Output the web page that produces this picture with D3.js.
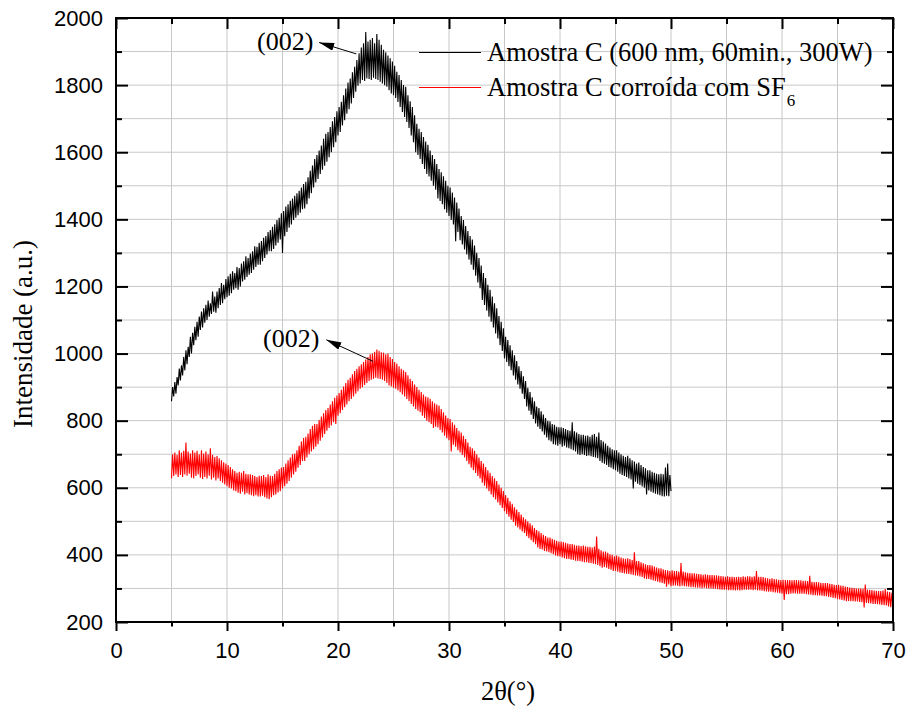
<!DOCTYPE html>
<html>
<head>
<meta charset="utf-8">
<script src="https://cdn.jsdelivr.net/npm/d3@7"></script>
<style>
  body { margin: 0; background: #fff; }
</style>
</head>
<body>
<div id="root"></div>
<script>
// DATA (2θ from 5°, step 0.1°)
const xStart = 5, xStep = 0.1;

// Amostra C (600 nm, 60min., 300W), 5° .. 50°  (one row = one degree)
const blackIntensity = [
  858, 900, 872, 915, 880, 930, 905, 955, 920, 965,
  935, 990, 950, 1010, 968, 1020, 990, 1050, 1000, 1062,
  1025, 1080, 1040, 1095, 1050, 1110, 1070, 1125, 1078, 1135,
  1092, 1145, 1100, 1158, 1110, 1150, 1118, 1185, 1125, 1170,
  1122, 1185, 1135, 1195, 1145, 1210, 1150, 1205, 1162, 1222,
  1168, 1230, 1172, 1238, 1180, 1245, 1190, 1240, 1195, 1258,
  1190, 1255, 1200, 1268, 1215, 1275, 1220, 1290, 1228, 1285,
  1235, 1298, 1240, 1305, 1250, 1320, 1258, 1318, 1265, 1330,
  1265, 1335, 1275, 1345, 1285, 1350, 1295, 1362, 1305, 1368,
  1305, 1378, 1312, 1385, 1322, 1398, 1330, 1405, 1340, 1418,
  1300, 1425, 1350, 1438, 1362, 1445, 1375, 1455, 1385, 1462,
  1398, 1470, 1405, 1478, 1412, 1485, 1420, 1495, 1430, 1505,
  1432, 1512, 1445, 1525, 1462, 1545, 1478, 1560, 1495, 1580,
  1510, 1592, 1520, 1605, 1535, 1620, 1548, 1640, 1560, 1655,
  1572, 1660, 1585, 1675, 1600, 1692, 1615, 1705, 1630, 1722,
  1650, 1735, 1660, 1750, 1680, 1770, 1695, 1790, 1715, 1808,
  1728, 1820, 1745, 1838, 1762, 1855, 1780, 1875, 1798, 1895,
  1805, 1912, 1815, 1925, 1812, 1958, 1820, 1930, 1818, 1935,
  1815, 1940, 1822, 1925, 1818, 1952, 1815, 1935, 1810, 1920,
  1805, 1905, 1800, 1898, 1795, 1888, 1785, 1880, 1775, 1870,
  1770, 1858, 1762, 1840, 1750, 1830, 1735, 1815, 1720, 1800,
  1705, 1795, 1690, 1770, 1672, 1752, 1650, 1735, 1630, 1710,
  1600, 1685, 1592, 1670, 1580, 1660, 1565, 1645, 1550, 1632,
  1535, 1622, 1528, 1605, 1515, 1592, 1500, 1580, 1488, 1565,
  1462, 1550, 1455, 1540, 1445, 1528, 1430, 1515, 1420, 1500,
  1410, 1495, 1398, 1480, 1385, 1465, 1335, 1450, 1362, 1432,
  1338, 1410, 1325, 1398, 1310, 1380, 1295, 1365, 1280, 1350,
  1265, 1340, 1250, 1322, 1232, 1300, 1212, 1285, 1195, 1262,
  1160, 1240, 1145, 1225, 1128, 1205, 1110, 1190, 1095, 1170,
  1078, 1150, 1060, 1135, 1045, 1112, 1025, 1095, 1008, 1075,
  985, 1050, 975, 1040, 962, 1025, 950, 1010, 935, 995,
  922, 978, 908, 962, 895, 948, 880, 932, 865, 918,
  842, 898, 830, 885, 818, 870, 805, 858, 792, 842,
  782, 838, 775, 828, 768, 818, 758, 808, 750, 800,
  742, 798, 738, 790, 730, 788, 728, 782, 725, 780,
  730, 780, 722, 778, 725, 775, 720, 772, 718, 770,
  715, 795, 712, 768, 708, 765, 700, 760, 698, 758,
  700, 758, 698, 755, 695, 756, 696, 752, 694, 758,
  692, 760, 690, 752, 688, 765, 680, 742, 675, 738,
  672, 732, 668, 725, 662, 720, 660, 715, 655, 712,
  652, 712, 648, 705, 642, 700, 638, 695, 635, 692,
  632, 695, 628, 688, 625, 682, 598, 678, 618, 672,
  612, 675, 608, 668, 604, 662, 600, 658, 580, 652,
  592, 652, 588, 648, 585, 645, 582, 642, 580, 640,
  578, 642, 575, 640, 574, 660, 576, 672, 575, 638,
  590
];

// Amostra C corroída com SF6, 5° .. 70°  (one row = one degree)
const redIntensity = [
  628, 700, 635, 705, 640, 698, 632, 712, 638, 705,
  632, 710, 640, 735, 636, 708, 642, 702, 630, 712,
  628, 705, 635, 710, 640, 700, 630, 712, 626, 702,
  632, 708, 628, 700, 636, 718, 625, 698, 630, 692,
  622, 695, 628, 688, 620, 682, 615, 676, 610, 672,
  605, 668, 600, 662, 598, 655, 592, 650, 590, 645,
  585, 648, 582, 645, 588, 650, 580, 642, 584, 640,
  580, 640, 578, 638, 575, 635, 578, 632, 574, 636,
  574, 635, 576, 638, 572, 632, 568, 640, 566, 636,
  572, 635, 578, 642, 580, 650, 586, 655, 590, 660,
  598, 662, 605, 672, 612, 682, 620, 690, 630, 700,
  640, 702, 648, 712, 660, 725, 668, 738, 680, 748,
  680, 752, 690, 762, 700, 775, 708, 785, 715, 790,
  722, 790, 730, 802, 740, 812, 750, 822, 760, 832,
  770, 838, 778, 848, 786, 858, 795, 868, 790, 875,
  815, 882, 822, 892, 832, 902, 840, 912, 848, 922,
  858, 928, 865, 938, 872, 948, 880, 955, 888, 962,
  895, 968, 900, 975, 906, 982, 912, 990, 918, 998,
  922, 1000, 925, 1005, 928, 1012, 926, 1008, 924, 1004,
  922, 1002, 918, 998, 912, 1000, 905, 990, 902, 984,
  898, 975, 895, 970, 890, 962, 885, 955, 878, 950,
  872, 945, 865, 935, 858, 925, 850, 918, 842, 908,
  835, 900, 830, 892, 825, 885, 815, 878, 808, 872,
  800, 870, 795, 865, 790, 858, 778, 852, 782, 848,
  780, 845, 772, 835, 765, 825, 755, 815, 748, 808,
  742, 805, 708, 795, 728, 788, 722, 778, 712, 770,
  705, 765, 698, 755, 690, 745, 680, 735, 670, 722,
  660, 718, 652, 710, 644, 700, 635, 690, 628, 680,
  615, 672, 606, 662, 598, 652, 590, 645, 580, 635,
  572, 628, 565, 620, 556, 610, 548, 600, 540, 590,
  530, 578, 522, 570, 514, 560, 505, 552, 498, 542,
  487, 535, 482, 528, 476, 520, 470, 512, 465, 506,
  456, 500, 450, 494, 444, 488, 438, 480, 432, 474,
  422, 470, 418, 465, 416, 460, 412, 456, 410, 452,
  408, 452, 405, 448, 402, 445, 398, 442, 396, 440,
  395, 440, 392, 438, 390, 436, 388, 434, 388, 432,
  386, 432, 385, 430, 383, 428, 382, 428, 381, 426,
  380, 428, 378, 426, 378, 424, 376, 424, 375, 422,
  374, 425, 372, 455, 370, 418, 366, 414, 362, 410,
  364, 410, 362, 406, 358, 402, 356, 400, 352, 396,
  352, 398, 350, 395, 348, 392, 346, 390, 345, 388,
  344, 390, 343, 388, 342, 385, 340, 408, 339, 382,
  338, 382, 336, 378, 334, 375, 330, 372, 328, 370,
  328, 370, 326, 368, 324, 365, 322, 362, 320, 360,
  318, 360, 316, 357, 314, 355, 305, 354, 312, 352,
  307, 354, 308, 352, 309, 352, 308, 350, 306, 376,
  308, 350, 307, 348, 306, 347, 305, 346, 304, 345,
  304, 345, 303, 344, 302, 343, 302, 342, 301, 341,
  302, 342, 301, 341, 300, 340, 300, 340, 299, 339,
  299, 339, 298, 338, 297, 337, 296, 336, 296, 335,
  296, 336, 295, 335, 295, 335, 295, 334, 294, 334,
  295, 335, 294, 334, 295, 336, 296, 335, 296, 336,
  296, 336, 296, 335, 295, 336, 296, 352, 294, 335,
  294, 335, 293, 334, 292, 332, 291, 330, 290, 329,
  290, 330, 289, 328, 288, 327, 287, 326, 286, 325,
  284, 326, 266, 325, 283, 325, 283, 325, 284, 324,
  285, 325, 285, 325, 284, 324, 284, 324, 284, 323,
  284, 323, 283, 322, 282, 338, 281, 320, 280, 319,
  280, 319, 279, 318, 279, 317, 278, 316, 277, 316,
  277, 316, 275, 314, 274, 313, 272, 311, 271, 310,
  268, 311, 267, 309, 266, 308, 264, 306, 262, 304,
  263, 303, 262, 302, 262, 301, 261, 300, 261, 300,
  260, 300, 259, 299, 243, 312, 257, 297, 256, 296,
  255, 295, 254, 294, 254, 293, 253, 292, 252, 292,
  251, 294, 250, 298, 249, 291, 246, 289, 244, 287,
  248
];

const xMajorTicks = [0, 10, 20, 30, 40, 50, 60, 70];
const xMinorTicks = [5, 15, 25, 35, 45, 55, 65];
const yMajorTicks = [200, 400, 600, 800, 1000, 1200, 1400, 1600, 1800, 2000];
const yMinorTicks = [300, 500, 700, 900, 1100, 1300, 1500, 1700, 1900];
const xGrid = [5, 10, 15, 20, 25, 30, 35, 40, 45, 50, 55, 60, 65];
const yGrid = [300, 400, 500, 600, 700, 800, 900, 1000, 1100, 1200, 1300, 1400, 1500, 1600, 1700, 1800, 1900];

const seriesNames = ["Amostra C (600 nm, 60min., 300W)", "Amostra C corroída com SF"];
const seriesColors = ["#000000", "#ff0000"];

// annotations: label position, arrow tail, arrow tip (data units)
const annotations = [
  { label: "(002)", tx: 12.7, ty: 1905, x1: 21.65, y1: 1893, x2: 18.3, y2: 1927 },
  { label: "(002)", tx: 13.25, ty: 1021, x1: 23.15, y1: 977, x2: 18.95, y2: 1041 }
];

// DIMENSIONS
let width = 908, height = 711;
let plotLeft = 116, plotTop = 18, plotW = 777, plotH = 604;

let svg = d3.select('#root')
  .append('svg')
  .attr('width', width)
  .attr('height', height)
  .style('background-color', '#fff');

let sansFont = '"Liberation Sans", Arial, sans-serif';
let serifFont = '"Liberation Serif", "Times New Roman", serif';

let xScale = d3.scaleLinear().domain([0, 70]).range([plotLeft, plotLeft + plotW]);
let yScale = d3.scaleLinear().domain([200, 2000]).range([plotTop + plotH, plotTop]);

// grid
svg.append('g').selectAll('line').data(xGrid).enter().append('line')
  .attr('x1', d => xScale(d)).attr('x2', d => xScale(d))
  .attr('y1', plotTop).attr('y2', plotTop + plotH)
  .attr('stroke', '#c8c8c8').attr('stroke-width', 1);
svg.append('g').selectAll('line').data(yGrid).enter().append('line')
  .attr('x1', plotLeft).attr('x2', plotLeft + plotW)
  .attr('y1', d => yScale(d)).attr('y2', d => yScale(d))
  .attr('stroke', '#c8c8c8').attr('stroke-width', 1);

// lines
let line = d3.line()
  .x((d, i) => xScale(xStart + i * xStep))
  .y(d => yScale(d));

svg.append('path')
  .datum(redIntensity)
  .attr('d', line)
  .attr('fill', 'none')
  .attr('stroke', seriesColors[1])
  .attr('stroke-width', 1.1);

svg.append('path')
  .datum(blackIntensity)
  .attr('d', line)
  .attr('fill', 'none')
  .attr('stroke', seriesColors[0])
  .attr('stroke-width', 1.1);

// axes
function styleAxis(g) {
  g.select('.domain').remove();
  g.selectAll('line').attr('stroke', '#000').attr('stroke-width', 2);
  g.selectAll('text').style('font-family', sansFont).style('font-size', '22px').attr('fill', '#000');
}

svg.append('g')
  .attr('transform', `translate(0, ${plotTop + plotH})`)
  .call(d3.axisBottom(xScale).tickValues(xMajorTicks).tickSize(9).tickPadding(11).tickFormat(d3.format('d')))
  .call(styleAxis);
svg.append('g')
  .attr('transform', `translate(0, ${plotTop + plotH})`)
  .call(d3.axisBottom(xScale).tickValues(xMinorTicks).tickSize(4.5).tickFormat(''))
  .call(styleAxis);
svg.append('g')
  .attr('transform', `translate(0, ${plotTop})`)
  .call(d3.axisTop(xScale).tickValues(xMajorTicks).tickSize(-11).tickFormat(''))
  .call(styleAxis);
svg.append('g')
  .attr('transform', `translate(0, ${plotTop})`)
  .call(d3.axisTop(xScale).tickValues(xMinorTicks).tickSize(-6).tickFormat(''))
  .call(styleAxis);

svg.append('g')
  .attr('transform', `translate(${plotLeft}, 0)`)
  .call(d3.axisLeft(yScale).tickValues(yMajorTicks).tickSize(-12).tickPadding(13).tickFormat(d3.format('d')))
  .call(styleAxis);
svg.append('g')
  .attr('transform', `translate(${plotLeft}, 0)`)
  .call(d3.axisLeft(yScale).tickValues(yMinorTicks).tickSize(-6).tickFormat(''))
  .call(styleAxis);
svg.append('g')
  .attr('transform', `translate(${plotLeft + plotW}, 0)`)
  .call(d3.axisRight(yScale).tickValues(yMajorTicks).tickSize(-12).tickFormat(''))
  .call(styleAxis);
svg.append('g')
  .attr('transform', `translate(${plotLeft + plotW}, 0)`)
  .call(d3.axisRight(yScale).tickValues(yMinorTicks).tickSize(-6).tickFormat(''))
  .call(styleAxis);

// frame
svg.append('rect')
  .attr('x', plotLeft).attr('y', plotTop)
  .attr('width', plotW).attr('height', plotH)
  .attr('fill', 'none').attr('stroke', '#000').attr('stroke-width', 2);

// axis titles
svg.append('text')
  .attr('transform', `translate(32, 334) rotate(-90)`)
  .attr('text-anchor', 'middle')
  .style('font-family', serifFont).style('font-size', '27px')
  .text('Intensidade (a.u.)');

svg.append('text')
  .attr('x', 508).attr('y', 700)
  .attr('text-anchor', 'middle')
  .style('font-family', serifFont).style('font-size', '26.5px')
  .text('2θ(°)');

// legend
let legendData = seriesNames.map((name, i) => ({ name: name, color: seriesColors[i], sub: i === 1 ? '6' : '' }));

let legendItems = svg.append('g').selectAll('.legend-item')
  .data(legendData)
  .enter().append('g')
  .attr('class', 'legend-item')
  .attr('transform', (d, i) => `translate(419, ${52.5 + i * 35})`);

legendItems.append('line')
  .attr('x1', 0).attr('x2', 62)
  .attr('stroke', d => d.color)
  .attr('stroke-width', 1.2);

let legendText = legendItems.append('text')
  .attr('x', 68).attr('y', 8.5)
  .style('font-family', serifFont).style('font-size', '26.5px')
  .text(d => d.name);

legendText.filter(d => d.sub)
  .append('tspan')
  .attr('dy', 10).attr('dx', 1)
  .style('font-size', '17px')
  .text(d => d.sub);

// annotations
svg.append('defs').append('marker')
  .attr('id', 'arrow')
  .attr('viewBox', '0 0 15 8')
  .attr('refX', 15).attr('refY', 4)
  .attr('markerWidth', 15).attr('markerHeight', 8)
  .attr('markerUnits', 'userSpaceOnUse')
  .attr('orient', 'auto')
  .append('path')
  .attr('d', 'M0,0 L15,4 L0,8 Z')
  .attr('fill', '#000');

let ann = svg.append('g').selectAll('g').data(annotations).enter().append('g');
ann.append('text')
  .attr('x', d => xScale(d.tx)).attr('y', d => yScale(d.ty))
  .style('font-family', serifFont).style('font-size', '26px')
  .text(d => d.label);
ann.append('line')
  .attr('x1', d => xScale(d.x1)).attr('y1', d => yScale(d.y1))
  .attr('x2', d => xScale(d.x2)).attr('y2', d => yScale(d.y2))
  .attr('stroke', '#000').attr('stroke-width', 1)
  .attr('marker-end', 'url(#arrow)');
</script>
</body>
</html>
